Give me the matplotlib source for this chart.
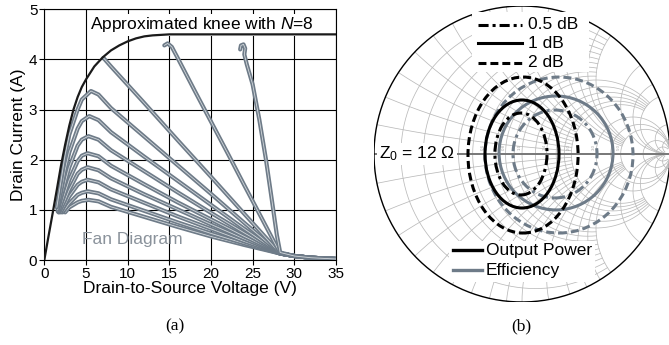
import numpy as np
import matplotlib.pyplot as plt
import matplotlib.patheffects as pe
from matplotlib.patches import Ellipse, Rectangle

plt.rcParams['font.family'] = ['Liberation Sans', 'DejaVu Sans']
plt.rcParams['mathtext.fontset'] = 'custom'
plt.rcParams['mathtext.rm'] = 'Liberation Sans'
plt.rcParams['mathtext.it'] = 'Liberation Sans:italic'

# ---- (a) fan diagram ----
knee_v = [0, 0.5, 1, 1.5, 2, 2.5, 3, 3.5, 4, 4.5, 5, 6, 7, 8, 9, 10, 11, 12, 13, 14, 15, 17, 35]
knee_i = [0, 0.47, 0.93, 1.4, 1.88, 2.3, 2.68, 3.0, 3.25, 3.45, 3.6, 3.86, 4.04, 4.18, 4.28, 4.36, 4.42, 4.46, 4.48, 4.49, 4.5, 4.5, 4.5]

tail_v = [30, 32, 35]
tail_i = [0.08, 0.045, 0.02]

fan_v = [
    [2.5, 3, 4, 4.5, 5.3, 6.5, 8, 12, 16, 20, 24, 28.3],
    [2.2, 3, 4, 4.5, 5.2, 6.5, 8, 12, 16, 20, 24, 28.3],
    [2.0, 3, 4, 4.5, 5.2, 6.5, 8, 12, 16, 20, 24, 28.3],
    [1.8, 2.5, 3, 4, 4.5, 5.2, 6.5, 8, 12, 16, 20, 24, 28.3],
    [1.7, 2.5, 3, 4, 4.5, 5.2, 6.5, 8, 12, 16, 20, 24, 28.3],
    [1.6, 2.5, 3, 4, 4.5, 5.3, 6.5, 8, 12, 16, 20, 24, 28.3],
    [1.6, 2.5, 3, 4, 4.5, 5.4, 6.5, 8, 12, 16, 20, 24, 28.3],
    [1.5, 2.5, 3, 4, 4.5, 5.6, 6.5, 8, 12, 16, 20, 24, 28.3],
    [7.1, 8, 12, 16, 20, 24, 28.3],
    [14.4, 14.8, 15.3, 16, 18, 20, 22, 24, 26, 28.3],
    [23.5, 23.6, 23.9, 24.1, 24.0, 24.3, 25.0, 25.8, 26.6, 27.3, 27.9, 28.3],
]
fan_i = [
    [0.95, 1.05, 1.15, 1.18, 1.2, 1.17, 1.06, 0.86, 0.66, 0.47, 0.30, 0.13],
    [0.95, 1.13, 1.3, 1.34, 1.37, 1.33, 1.21, 0.98, 0.75, 0.53, 0.33, 0.13],
    [0.95, 1.27, 1.5, 1.56, 1.6, 1.55, 1.41, 1.14, 0.87, 0.62, 0.37, 0.13],
    [0.95, 1.2, 1.4, 1.72, 1.80, 1.85, 1.79, 1.63, 1.31, 1.01, 0.71, 0.42, 0.13],
    [0.95, 1.35, 1.6, 1.97, 2.08, 2.13, 2.07, 1.88, 1.51, 1.15, 0.81, 0.47, 0.13],
    [0.97, 1.55, 1.85, 2.28, 2.40, 2.47, 2.40, 2.19, 1.77, 1.35, 0.94, 0.54, 0.13],
    [1.0, 1.8, 2.15, 2.62, 2.77, 2.87, 2.79, 2.55, 2.06, 1.58, 1.10, 0.62, 0.13],
    [1.05, 2.1, 2.5, 3.0, 3.2, 3.37, 3.30, 3.03, 2.46, 1.89, 1.32, 0.74, 0.13],
    [4.03, 3.86, 3.13, 2.39, 1.66, 0.92, 0.13],
    [4.28, 4.32, 4.25, 4.03, 3.39, 2.76, 2.13, 1.49, 0.86, 0.13],
    [4.2, 4.28, 4.3, 4.22, 4.1, 3.9, 3.5, 2.8, 2.0, 1.2, 0.5, 0.15],
]

# ---- (b) load-pull contours on the Smith chart ----
levels = ['0.5 dB', '1 dB', '2 dB']
pout_cx = [-0.007, 0.0, 0.007]
pout_cy = [0.0, 0.0, -0.007]
pout_w = [0.352, 0.50, 0.744]
pout_h = [0.554, 0.73, 1.054]
eff_cx = [0.223, 0.23, 0.25]
eff_cy = [0.0, 0.007, -0.007]
eff_w = [0.568, 0.77, 1.0]
eff_h = [0.594, 0.77, 1.054]

smith_vals = [0.1, 0.2, 0.3, 0.4, 0.5, 0.6, 0.7, 0.8, 0.9, 1.0, 1.2, 1.4, 1.6, 1.8, 2.0, 3.0, 4.0, 5.0, 10, 20]
smith_labels = [0.4, 0.6, 0.8, 1.0, 1.4, 2.0, 3.0, 5.0]

grey = '#6e7b88'
grid_c = '#bababa'
styles = [(0, (3.3, 1.3, 1.0, 1.3)), '-', (0, (2.6, 1.3))]


def extent(v):
    # how far a grid line runs before it stops, as on a printed chart
    if v < 1:
        return 2.0
    if v <= 2:
        return 5.0
    return 50.0


fig = plt.figure(figsize=(6.69, 3.45), dpi=100)

# ---------- panel (a) ----------
ax1 = fig.add_axes([44.3 / 669, 85 / 345, 291.7 / 669, 250.7 / 345])
ax1.set_xlim(0, 35)
ax1.set_ylim(0, 5)
ax1.set_xticks(range(0, 36, 5))
ax1.set_yticks(range(0, 6))
ax1.grid(True, color='black', lw=0.8)
ax1.set_axisbelow(True)
for s in ax1.spines.values():
    s.set_linewidth(0.8)
ax1.tick_params(labelsize=11, length=3.5, width=0.8, pad=1.5)

for v, i in zip(fan_v, fan_i):
    ax1.plot(v + tail_v, i + tail_i, color='#d3d8dc', lw=0.6, solid_capstyle='round',
             path_effects=[pe.Stroke(linewidth=3.0, foreground=grey), pe.Normal()], zorder=3)
ax1.plot(knee_v, knee_i, color='#1a1a1a', lw=1.6, zorder=4)

ax1.text(5.5, 4.69, r'Approximated knee with $\mathit{N}$=8', fontsize=12.5, va='center', ha='left',
         bbox=dict(facecolor='white', edgecolor='none', boxstyle='square,pad=0.1'), zorder=2)
ax1.text(4.5, 0.4, 'Fan Diagram', fontsize=12.5, color='#8a929b', va='center', ha='left', zorder=5)
ax1.set_xlabel('Drain-to-Source Voltage (V)', fontsize=12.5, labelpad=0)
ax1.set_ylabel('Drain Current (A)', fontsize=12.5, labelpad=2)

# ---------- panel (b) ----------
ax2 = fig.add_axes([374 / 669, 43 / 345, 296 / 669, 296 / 345])
ax2.set_xlim(-1, 1)
ax2.set_ylim(-1, 1)
ax2.axis('off')

for r in smith_vals:
    lim = np.arctan(extent(r))
    xx = np.tan(np.linspace(-lim, lim, 600))
    g = (r + 1j * xx - 1) / (r + 1j * xx + 1)
    ax2.plot(g.real, g.imag, color=grid_c, lw=0.55, zorder=1)
for x in smith_vals:
    rr = np.tan(np.linspace(0, np.arctan(extent(x)), 600))
    for sign in (1, -1):
        g = (rr + 1j * sign * x - 1) / (rr + 1j * sign * x + 1)
        ax2.plot(g.real, g.imag, color=grid_c, lw=0.55, zorder=1)
for r in smith_labels:
    p = (r - 1) / (r + 1)
    ax2.text(p - 0.014, 0.05, f'{r:.1f}', fontsize=3.2, color='#a8a8a8', rotation=90,
             ha='center', va='center', zorder=1)
ax2.plot([-1, 1], [0, 0], color='#777777', lw=1.4, zorder=1.5)
phi = np.linspace(0, 2 * np.pi, 400)
ax2.plot(np.cos(phi), np.sin(phi), color='black', lw=1.0, zorder=1.6)

ax2.add_patch(Rectangle((-0.34, 0.555), 0.79, 0.405, facecolor='white', edgecolor='none', zorder=2))
ax2.add_patch(Rectangle((-0.49, -0.865), 0.98, 0.28, facecolor='white', edgecolor='none', zorder=2))

for k in range(3):
    ax2.add_patch(Ellipse((eff_cx[k], eff_cy[k]), eff_w[k], eff_h[k], fill=False,
                          edgecolor=grey, lw=2.2, linestyle=styles[k], zorder=3))
for k in range(3):
    ax2.add_patch(Ellipse((pout_cx[k], pout_cy[k]), pout_w[k], pout_h[k], fill=False,
                          edgecolor='black', lw=2.2, linestyle=styles[k], zorder=4))

for k, yy in enumerate([0.872, 0.75, 0.615]):
    ax2.plot([-0.297, 0.0], [yy, yy], color='black', lw=2.2, linestyle=styles[k], zorder=5)
    ax2.text(0.04, yy, levels[k], fontsize=12.5, va='center', ha='left', zorder=5)

ax2.plot([-0.466, -0.27], [-0.649, -0.649], color='black', lw=2.4, zorder=5)
ax2.text(-0.245, -0.649, 'Output Power', fontsize=12.5, va='center', ha='left', zorder=5)
ax2.plot([-0.466, -0.27], [-0.784, -0.784], color=grey, lw=2.4, zorder=5)
ax2.text(-0.245, -0.784, 'Efficiency', fontsize=12.5, va='center', ha='left', zorder=5)

ax2.text(-0.965, 0.0, r'$\mathregular{Z_0}$ = 12 Ω', fontsize=12.5, va='center', ha='left',
         bbox=dict(facecolor='white', edgecolor='none', boxstyle='square,pad=0.1'), zorder=5)

fig.text(175 / 669, 1 - 326 / 345, '(a)', family='Liberation Serif', fontsize=12.5, ha='center', va='center')
fig.text(521 / 669, 1 - 326 / 345, '(b)', family='Liberation Serif', fontsize=12.5, ha='center', va='center')

fig.savefig('out.png', dpi=100)
